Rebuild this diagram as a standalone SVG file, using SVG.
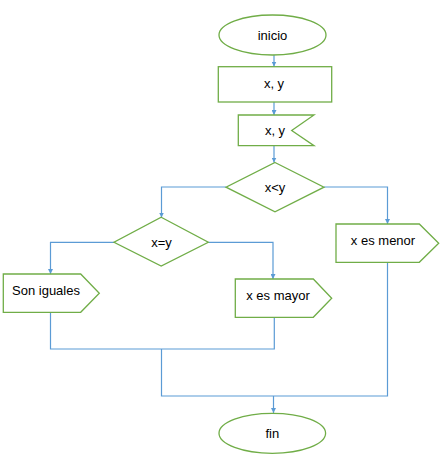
<svg xmlns="http://www.w3.org/2000/svg" width="446" height="467" viewBox="0 0 446 467">
<defs>
<style>
.n{fill:#fff;stroke:#70AD47;stroke-width:1.3}
.c{fill:none;stroke:#5B9BD5;stroke-width:1.2}
.t{font-family:"Liberation Sans",Arial,sans-serif;font-size:13px;fill:#000;text-anchor:middle;dominant-baseline:central}
</style>
<marker id="ah" viewBox="0 0 10 10" refX="10" refY="5" markerWidth="5" markerHeight="5" markerUnits="userSpaceOnUse" orient="auto">
<path d="M0,0 L10,5 L0,10 z" fill="#5B9BD5"/>
</marker>
</defs>
<rect width="446" height="467" fill="#fff"/>
<g id="connectors">
<path class="c" d="M274,55 V66.5" marker-end="url(#ah)"/>
<path class="c" d="M274,102 V115" marker-end="url(#ah)"/>
<path class="c" d="M274,146 V162.5" marker-end="url(#ah)"/>
<path class="c" d="M226,187 H161.5 V217.5" marker-end="url(#ah)"/>
<path class="c" d="M324,187 H387.5 V224" marker-end="url(#ah)"/>
<path class="c" d="M114,242.3 H50.5 V274" marker-end="url(#ah)"/>
<path class="c" d="M208.3,242.3 H273 V279" marker-end="url(#ah)"/>
<path class="c" d="M50.5,312.3 V349 H274.3 V317.3"/>
<path class="c" d="M161.5,349 V396 H387.5 V262.3"/>
<path class="c" d="M273.5,396 V413" marker-end="url(#ah)"/>
</g>
<g id="inicio">
<ellipse class="n" cx="272.5" cy="35" rx="53.5" ry="20"/>
<text class="t" x="272.5" y="35">inicio</text>
</g>
<g id="input">
<rect class="n" x="218.3" y="66.7" width="113.4" height="35.3"/>
<text class="t" x="274" y="83">x, y</text>
</g>
<g id="output">
<path class="n" d="M238.3,115 H314 L291.7,130.5 L314,145.7 H238.3 Z"/>
<text class="t" x="275" y="130">x, y</text>
</g>
<g id="cond1">
<path class="n" d="M275,162.5 L324,187.2 L275,211.8 L226,187.2 Z"/>
<text class="t" x="275" y="187">x&lt;y</text>
</g>
<g id="cond2">
<path class="n" d="M161.2,217.3 L208.3,242.3 L161.2,266 L114,242.3 Z"/>
<text class="t" x="161.5" y="242">x=y</text>
</g>
<g id="menor">
<path class="n" d="M336,224 H419.3 L438.7,243.2 L419.3,262.3 H336 Z"/>
<text class="t" x="383" y="240">x es menor</text>
</g>
<g id="iguales">
<path class="n" d="M3.3,274 H80.7 L99.3,293.2 L80.7,312.3 H3.3 Z"/>
<text class="t" x="46" y="290">Son iguales</text>
</g>
<g id="mayor">
<path class="n" d="M235.3,279 H313.3 L331.7,298.2 L313.3,317.3 H235.3 Z"/>
<text class="t" x="278" y="295">x es mayor</text>
</g>
<g id="fin">
<ellipse class="n" cx="272.3" cy="433.3" rx="53.3" ry="20"/>
<text class="t" x="272.3" y="433.5">fin</text>
</g>
</svg>
